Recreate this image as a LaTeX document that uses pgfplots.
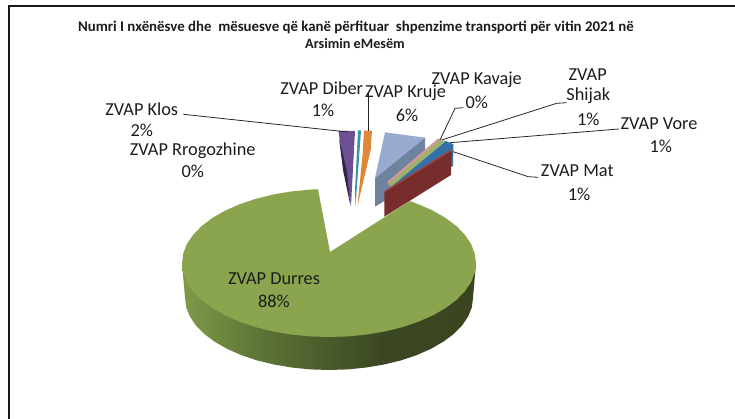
\documentclass[border=0pt]{standalone}
\usepackage{fontspec}
\setmainfont{Carlito}
\usepackage{pgfplots}
\pgfplotsset{compat=1.18}

\definecolor{durrestop}{HTML}{8AA54E}
\definecolor{krujetop}{HTML}{98AACF}
\definecolor{krujeside}{HTML}{6F83A0}
\definecolor{matside}{HTML}{772D2B}
\definecolor{mattop}{HTML}{A04540}
\definecolor{voretop}{HTML}{3470A8}
\definecolor{shijaktop}{HTML}{9DB26A}
\definecolor{kavajetop}{HTML}{D09A98}
\definecolor{klostop}{HTML}{6C5093}
\definecolor{klosside}{HTML}{2F2745}
\definecolor{rrogtop}{HTML}{3A93A8}
\definecolor{dibertop}{HTML}{E0883A}
\definecolor{labeltext}{HTML}{1C1C1C}
\definecolor{sideA}{HTML}{7F9B49}
\definecolor{sideB}{HTML}{5F7637}
\definecolor{sideC}{HTML}{4C5D2C}
\definecolor{sideD}{HTML}{3B4722}
\definecolor{sideE}{HTML}{3A4520}

\pgfdeclarehorizontalshading{durresside}{100bp}{
  color(0bp)=(sideA);
  color(25bp)=(sideA);
  color(37.5bp)=(sideB);
  color(48.5bp)=(sideC);
  color(59bp)=(sideD);
  color(75bp)=(sideE);
  color(100bp)=(sideE)}

\begin{document}
\begin{tikzpicture}
\begin{axis}[
    scale only axis,
    width=735pt,
    height=419pt,
    xmin=0, xmax=735,
    ymin=0, ymax=419,
    y dir=reverse,
    hide axis,
    no markers,
    nodes={font=\fontsize{18.3}{21}\selectfont, text=labeltext, inner sep=0pt},
]

% keeps the whole page in the bounding box
\addplot[draw=none] coordinates {(0,0) (735,419)};

% frame
\addplot[black!90, line width=2pt] coordinates {(8.5,419) (8.5,6) (735,6)};

% Kruje
\addplot[draw=none, fill=krujeside] coordinates {(425,137.7) (375,178) (375,206.7) (425,176)};
\addplot[draw=none, fill=krujetop] coordinates {(385,132.3) (425,137.7) (375,178)};

% Kavaje, Shijak, Vore, Mat
\addplot[draw=none, fill=kavajetop] coordinates {(387.7,181.5) (438,138.5) (441,140) (388.3,184.3)};
\addplot[draw=none, fill=shijaktop] coordinates {(388.3,184.3) (440,140) (446,141) (391.7,186.7)};
\addplot[draw=none, fill=voretop] coordinates {(391,187) (446,141) (453.5,144.5) (453,166) (386,192)};
\addplot[draw=none, fill=mattop] coordinates {(384.3,191) (451,149.5) (451.7,151.5) (384.3,193)};
\addplot[draw=none, fill=matside] coordinates {(384.3,192.7) (451.7,151) (451,175) (384.3,216.7)};

% Klos
\addplot[draw=none, fill=klostop] coordinates {(338.5,131) (355,131) (351,206) (340,142)};
\addplot[draw=none, fill=klosside] coordinates {(339,138) (343,170) (350.5,206) (346.7,170)};
% Rrogozhine
\addplot[draw=none, fill=rrogtop] coordinates {(358,130.5) (361,130.5) (355.5,206) (355,190)};
% Diber
\addplot[draw=none, fill=dibertop] coordinates {(364,130.7) (372,130.7) (370.7,150) (357.5,206) (362.5,155)};

% Durres, side
\addplot[draw=none, shading=durresside] coordinates {
  (476,263) (473,298) (471.8,307.4) (468.1,316.6) (462,325.6) (453.7,334) (443.2,341.8)
  (430.8,348.9) (416.7,355.1) (401,360.4) (384.1,364.5) (366.3,367.5) (347.8,369.4)
  (329,370) (310.2,369.4) (291.7,367.5) (273.9,364.5) (257,360.4) (241.3,355.1)
  (227.2,348.9) (214.8,341.8) (204.3,334) (196,325.6) (189.9,316.6) (186.2,307.4)
  (185,298) (182,263)};
% Durres, top
\addplot[draw=none, fill=durrestop] coordinates {
  (330,252) (410,201) (418.5,204.3) (433,210.7) (445.6,217.9) (456.3,226) (464.8,234.7)
  (471,243.8) (474.7,253.3) (476,263) (474.7,272.7) (471,282.2) (464.8,291.3)
  (456.3,300) (445.6,308.1) (433,315.3) (418.5,321.7) (402.5,327.1) (385.3,331.4)
  (367,334.5) (348.2,336.4) (329,337) (309.8,336.4) (291,334.5) (272.7,331.4)
  (255.5,327.1) (239.5,321.7) (225,315.3) (212.4,308.1) (201.7,300) (193.2,291.3)
  (187,282.2) (183.3,272.7) (182,263) (183.3,253.3) (187,243.8) (193.2,234.7)
  (201.7,226) (212.4,217.9) (225,210.7) (239.5,204.3) (255.5,198.9) (272.7,194.6)
  (291,191.5) (309.8,189.6) (318,189.2)};

% leader lines
\addplot[black!85, line width=0.8pt] coordinates {(183.3,114.3) (338.3,131) (348,131.7)};
\addplot[black!85, line width=0.8pt] coordinates {(368.3,131) (368.3,93.3)};
\addplot[black!85, line width=0.8pt] coordinates {(463.3,107.7) (455,108.3) (440,140)};
\addplot[black!85, line width=0.8pt] coordinates {(566.7,102.7) (556.7,103.3) (441.7,140)};
\addplot[black!85, line width=0.8pt] coordinates {(619,129) (450,142.7)};
\addplot[black!85, line width=0.8pt] coordinates {(538.3,177.3) (528.3,176.7) (453.3,151.7)};

% title
\node[font=\fontsize{14.85}{17}\selectfont\bfseries] at (axis cs:356,27) {Numri I nxënësve dhe \ mësuesve që kanë përfituar \ shpenzime transporti për vitin 2021 në};
\node[font=\fontsize{14.2}{17}\selectfont\bfseries] at (axis cs:355,44) {Arsimin eMesëm};

% data labels
\node at (axis cs:321.7,88) {ZVAP Diber};
\node at (axis cs:323,110.7) {1\%};
\node at (axis cs:141.7,109.3) {ZVAP Klos};
\node at (axis cs:141.7,130.5) {2\%};
\node at (axis cs:192.7,150.5) {ZVAP Rrogozhine};
\node at (axis cs:192.7,171) {0\%};
\node at (axis cs:405.5,93) {ZVAP Kruje};
\node at (axis cs:407,115) {6\%};
\node at (axis cs:476.7,79.3) {ZVAP Kavaje};
\node at (axis cs:476.7,102.3) {0\%};
\node at (axis cs:587.7,74.3) {ZVAP};
\node at (axis cs:588.3,96) {Shijak};
\node at (axis cs:588.3,119.3) {1\%};
\node at (axis cs:659,123.3) {ZVAP Vore};
\node at (axis cs:660.7,146) {1\%};
\node at (axis cs:577.3,171) {ZVAP Mat};
\node at (axis cs:579,194) {1\%};
\node at (axis cs:274,279) {ZVAP Durres};
\node at (axis cs:274,301.7) {88\%};

\end{axis}
\end{tikzpicture}
\end{document}
